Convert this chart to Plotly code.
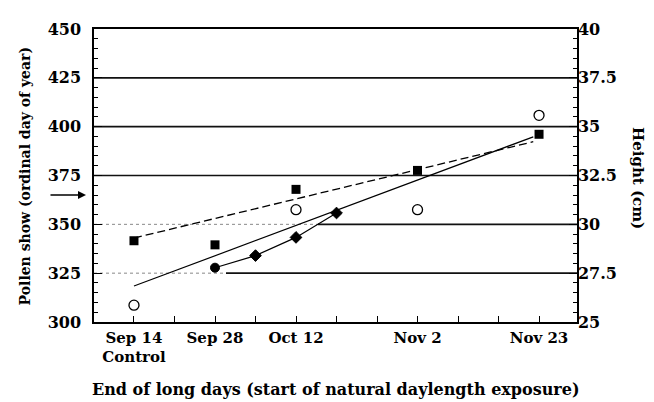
import plotly.graph_objects as go

# x positions in days after Sep 14 (weekly ticks)
tick_days = [0, 7, 14, 21, 28, 35, 42, 49, 56, 63, 70]
tick_text = ["Sep 14<br>Control", "", "Sep 28", "", "Oct 12", "", "", "Nov 2", "", "", "Nov 23"]

# Filled squares (pollen shed, ordinal day)
sq_days = [0, 14, 28, 49, 70]
sq_vals = [341.6, 339.5, 367.9, 377.6, 396.1]

# Open circles (height, cm)
circ_days = [0, 28, 49, 70]
circ_vals = [25.86, 30.75, 30.75, 35.58]

# Diamond series (connected)
dia_days = [14, 21, 28, 35]
dia_vals = [327.8, 334.0, 343.3, 355.8]

# Regression lines
reg_solid_days = [0, 69]
reg_solid_vals = [318.4, 394.8]
reg_dash_days = [0, 69]
reg_dash_vals = [343.0, 392.3]

# Control marker (arrow) value
arrow_val = 365

font_fam = "DejaVu Serif"

fig = go.Figure()

# Horizontal reference lines
solid_grid = [375, 400, 425]
for g in solid_grid:
    fig.add_shape(type="line", xref="paper", yref="y", x0=0, x1=1, y0=g, y1=g,
                  line=dict(color="#111", width=1.6), layer="below")
# 350 line: dotted then solid
fig.add_shape(type="line", xref="x", yref="y", x0=-6.91, x1=31.8, y0=350, y1=350,
              line=dict(color="#888", width=1, dash="dot"), layer="below")
fig.add_shape(type="line", xref="x", yref="y", x0=31.8, x1=76.56, y0=350, y1=350,
              line=dict(color="#111", width=1.6), layer="below")
# 325 line: dotted then solid
fig.add_shape(type="line", xref="x", yref="y", x0=-6.91, x1=15.9, y0=325, y1=325,
              line=dict(color="#888", width=1, dash="dot"), layer="below")
fig.add_shape(type="line", xref="x", yref="y", x0=15.9, x1=76.56, y0=325, y1=325,
              line=dict(color="#111", width=1.6), layer="below")

fig.add_trace(go.Scatter(x=reg_dash_days, y=reg_dash_vals, mode="lines",
                         line=dict(color="black", width=1.3, dash="8px,4px"),
                         showlegend=False, hoverinfo="skip"))
fig.add_trace(go.Scatter(x=reg_solid_days, y=reg_solid_vals, mode="lines",
                         line=dict(color="black", width=1.2),
                         showlegend=False, hoverinfo="skip"))
fig.add_trace(go.Scatter(x=dia_days, y=dia_vals, mode="lines+markers",
                         line=dict(color="black", width=1.2),
                         marker=dict(symbol=["circle", "diamond", "diamond", "diamond"],
                                     size=[9, 9, 9, 9], color="black", opacity=1,
                                     line=dict(color="black", width=1)),
                         showlegend=False))
fig.add_trace(go.Scatter(x=sq_days, y=sq_vals, mode="markers",
                         marker=dict(symbol="square", size=9, color="black"),
                         showlegend=False))
fig.add_trace(go.Scatter(x=circ_days, y=circ_vals, mode="markers", yaxis="y2",
                         marker=dict(symbol="circle-open", size=10, color="black",
                                     line=dict(width=1.3)),
                         showlegend=False))

tickfont = dict(family=font_fam, size=16, color="black", weight="bold")

fig.update_layout(
    width=654, height=402,
    margin=dict(l=86, r=85, t=16, b=88),
    paper_bgcolor="white", plot_bgcolor="white",
    showlegend=False,
    xaxis=dict(range=[-6.91, 76.56], tickvals=tick_days, ticktext=tick_text,
               ticks="inside", ticklen=6, tickcolor="black", tickwidth=1,
               showgrid=False, zeroline=False, showline=True, linecolor="black",
               linewidth=1.5, mirror=True, tickfont=dict(family=font_fam, size=15,
               color="black", weight="bold"), ticklabelstandoff=1),
    yaxis=dict(range=[300, 450], tickvals=[300, 325, 350, 375, 400, 425, 450],
               ticks="inside", ticklen=8, tickcolor="black", showgrid=False,
               zeroline=False, showline=True, linecolor="black", linewidth=1.5,
               minor=dict(dtick=5, ticks="inside", ticklen=4, tickcolor="black"),
               tickfont=tickfont, ticklabelstandoff=8),
    yaxis2=dict(range=[25, 40], tickvals=[25, 27.5, 30, 32.5, 35, 37.5, 40],
                ticktext=["25", "27.5", "30", "32.5", "35", "37.5", "40"],
                overlaying="y", side="right", ticks="inside", ticklen=8,
                tickcolor="black", showgrid=False, zeroline=False, showline=True,
                linecolor="black", linewidth=1.5,
                minor=dict(dtick=0.5, ticks="inside", ticklen=4, tickcolor="black"),
                tickfont=tickfont, ticklabelstandoff=-4),
    annotations=[
        dict(text="Pollen show (ordinal day of year)", xref="paper", yref="paper",
             x=-0.143, y=0.5, textangle=-90, showarrow=False, xanchor="center",
             yanchor="middle", font=dict(family=font_fam, size=14, color="black",
                                         weight="bold")),
        dict(text="Height (cm)", xref="paper", yref="paper",
             x=1.125, y=0.49, textangle=90, showarrow=False, xanchor="center",
             yanchor="middle", font=dict(family=font_fam, size=15, color="black",
                                         weight="bold")),
        dict(text="End of long days (start of natural daylength exposure)",
             xref="paper", yref="paper", x=0.5, y=-0.23, showarrow=False,
             xanchor="center", yanchor="middle",
             font=dict(family=font_fam, size=16, color="black", weight="bold")),
        dict(text="", xref="paper", yref="y", x=-0.0166, y=arrow_val,
             ax=-37, ay=0, showarrow=True, arrowhead=2, arrowsize=1,
             arrowwidth=1.6, arrowcolor="black"),
    ],
)

fig.write_html("out.html")
